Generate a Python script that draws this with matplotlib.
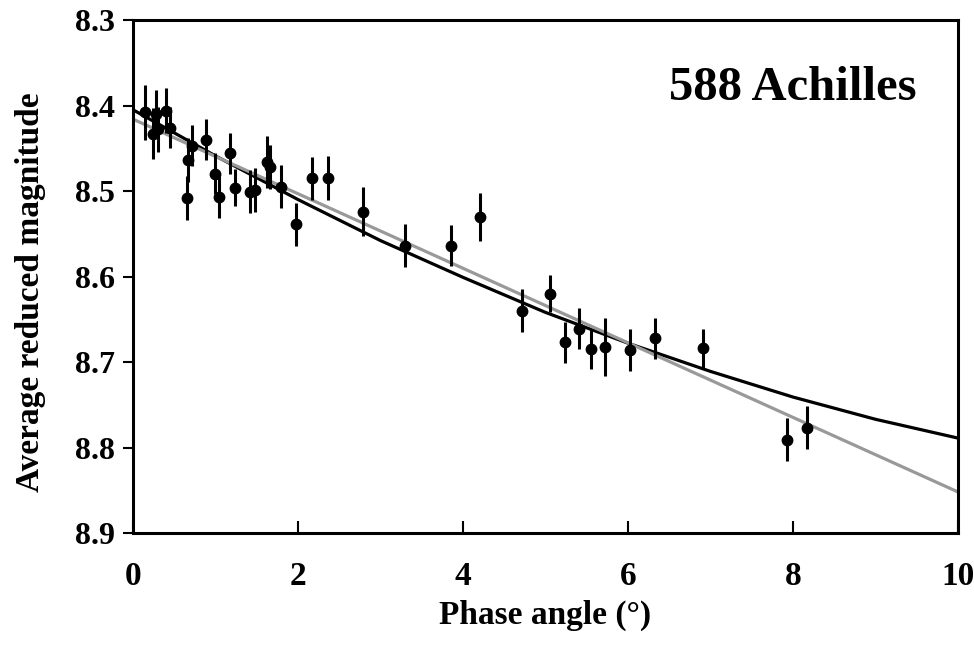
"""Phase curve of 588 Achilles"""

import matplotlib
matplotlib.use('Agg')
import matplotlib.pyplot as plt

# Observed points (phase angle in deg, reduced magnitude, error)
phase = [0.15, 0.24, 0.28, 0.30, 0.40, 0.45, 0.65, 0.67, 0.72, 0.89,
         0.99, 1.04, 1.18, 1.24, 1.42, 1.48, 1.62, 1.66, 1.79, 1.98,
         2.17, 2.36, 2.79, 3.30, 3.85, 4.20, 4.72, 5.06, 5.24, 5.40,
         5.55, 5.72, 6.02, 6.33, 6.91, 7.93, 8.17]
mag = [8.408, 8.433, 8.410, 8.428, 8.406, 8.426, 8.508, 8.464, 8.447, 8.440,
       8.480, 8.507, 8.456, 8.496, 8.501, 8.499, 8.466, 8.472, 8.495, 8.539,
       8.485, 8.485, 8.524, 8.564, 8.564, 8.530, 8.640, 8.620, 8.677, 8.661,
       8.685, 8.682, 8.686, 8.672, 8.684, 8.791, 8.777]
err = [0.032, 0.030, 0.028, 0.026, 0.026, 0.024, 0.026, 0.026, 0.024, 0.024,
       0.024, 0.024, 0.024, 0.022, 0.025, 0.026, 0.030, 0.026, 0.025, 0.025,
       0.025, 0.026, 0.029, 0.025, 0.024, 0.028, 0.025, 0.022, 0.024, 0.024,
       0.023, 0.034, 0.025, 0.024, 0.023, 0.025, 0.025]

# Fitted curves
curve_x = [0, 1, 2, 3, 4, 5, 6, 7, 8, 9, 10]
curve_y = [8.405, 8.459, 8.510, 8.558, 8.601, 8.642, 8.678, 8.711, 8.741, 8.767, 8.789]
lin_x = [0, 10]
lin_y = [8.416, 8.852]

plt.rcParams['font.family'] = ['Liberation Serif', 'DejaVu Serif']
plt.rcParams['font.weight'] = 'bold'

fig = plt.figure(figsize=(9.74, 6.54), dpi=100)
ax = fig.add_axes([0.1366, 0.185, 0.847, 0.7844])

ax.plot(curve_x, curve_y, color='black', linewidth=2.3, zorder=2)
ax.plot(lin_x, lin_y, color='#999999', linewidth=2.3, zorder=2)
ax.errorbar(phase, mag, yerr=err, fmt='o', color='black', markersize=7.5,
            elinewidth=2.2, capsize=0, zorder=3)

ax.set_xlim(0, 10)
ax.set_ylim(8.9, 8.3)
ax.set_xticks([0, 2, 4, 6, 8, 10])
ax.set_yticks([8.3, 8.4, 8.5, 8.6, 8.7, 8.8, 8.9])
ax.set_yticklabels(['8.3', '8.4', '8.5', '8.6', '8.7', '8.8', '8.9'])

ax.tick_params(axis='x', direction='in', length=9, width=1.5, labelsize=24, pad=20)
ax.tick_params(axis='y', direction='out', length=7, width=1.5, labelsize=23, pad=6)
for s in ax.spines.values():
    s.set_linewidth(2.2)

ax.set_xlabel('Phase angle (°)', fontsize=24, fontweight='bold', labelpad=6)
ax.set_ylabel('Average reduced magnitude', fontsize=24, fontweight='bold')
ax.yaxis.set_label_coords(-0.105, 0.47)

ax.text(9.5, 8.394, '588 Achilles', fontsize=35, fontweight='bold',
        ha='right', va='baseline')

fig.savefig('out.png', dpi=100)
